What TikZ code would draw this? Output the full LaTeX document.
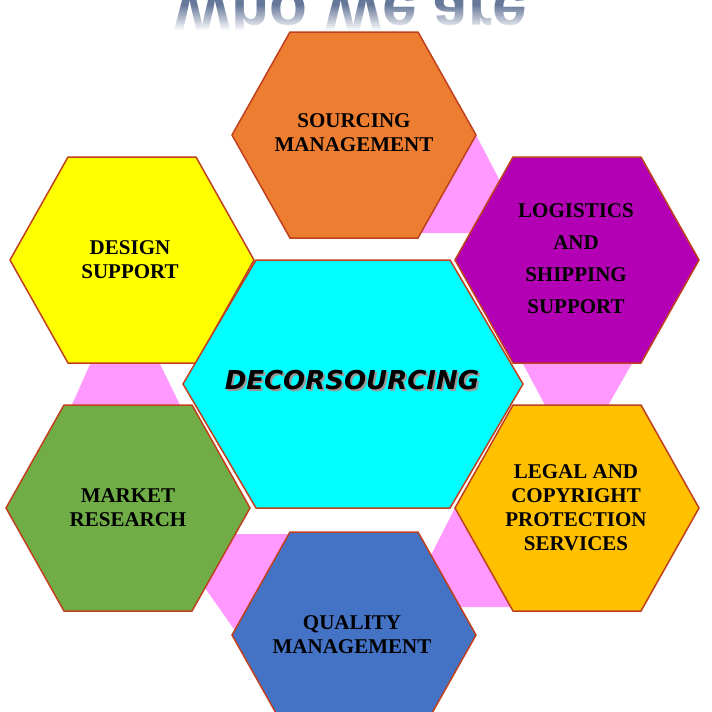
\documentclass[tikz,border=0pt]{standalone}
\usepackage{fontspec}
\setmainfont{Liberation Serif}
\newfontfamily\decofont{DejaVu Sans}
\newfontfamily\reflfont{Liberation Sans}
\definecolor{edgeC}{HTML}{C0401E}
\definecolor{pinkC}{HTML}{FF99FF}
\definecolor{orangeC}{HTML}{ED7D31}
\definecolor{yellowC}{HTML}{FFFF00}
\definecolor{purpleC}{HTML}{B400B4}
\definecolor{cyanC}{HTML}{00FFFF}
\definecolor{greenC}{HTML}{70AD47}
\definecolor{goldC}{HTML}{FFC000}
\definecolor{blueC}{HTML}{4472C4}
\definecolor{slateC}{HTML}{66789A}
\tikzset{
  pics/hexa/.style n args={3}{code={
    \path[pic actions] (-#1,0) -- (-#3,-#2) -- (#3,-#2) -- (#1,0) -- (#3,#2) -- (-#3,#2) -- cycle;}},
  hexedge/.style={draw=edgeC, line width=1.5pt, line join=miter},
  lbl/.style={font=\bfseries\fontsize{21}{24}\selectfont, align=center, text=black},
  pinkpoly/.style={fill=pinkC, draw=none}
}
\begin{document}
\begin{tikzpicture}[x=1pt,y=-1pt]
\useasboundingbox (0,0) rectangle (712,712);
\clip (0,0) rectangle (712,712);
% reflected title
\node[font=\reflfont\bfseries\fontsize{62}{62}\selectfont, text=slateC, anchor=base, inner sep=0pt] (refl) at (350,-8) {\scalebox{1}[-1]{Who We are}};
\foreach \i in {0,...,13}{
  \fill[white, opacity=\i/13] (0,4+2*\i) rectangle (712,6+2*\i);
}
\fill[white] (0,32) rectangle (712,80);
% pink links
\fill[pinkpoly] (476,135) -- (510,200) -- (510,233) -- (410,233) -- cycle;
\fill[pinkpoly] (521,360) -- (634,360) -- (606,409) -- (547,409) -- cycle;
\fill[pinkpoly] (455,508) -- (427,563) -- (450,607) -- (515,607) -- cycle;
\fill[pinkpoly] (225,534) -- (294,534) -- (236,632) -- (205,588) -- cycle;
\fill[pinkpoly] (92,360) -- (158,360) -- (182,409) -- (70,409) -- cycle;
% hexagons
\pic[hexedge, fill=orangeC] at (354,135) {hexa={122}{103}{64}};
\pic[hexedge, fill=yellowC] at (132,260) {hexa={122}{103}{64}};
\pic[hexedge, fill=purpleC] at (577,260) {hexa={122}{103}{64}};
\pic[hexedge, fill=greenC] at (128,508) {hexa={122}{103}{64}};
\pic[hexedge, fill=goldC] at (577,508) {hexa={122}{103}{64}};
\pic[hexedge, fill=blueC] at (354,635) {hexa={122}{103}{64}};
\pic[hexedge, fill=cyanC] at (353,384) {hexa={170}{124}{97}};
% labels
\node[lbl] (src) at (354,133) {SOURCING\\MANAGEMENT};
\node[lbl] (des) at (130,260) {DESIGN\\SUPPORT};
\node[lbl, font=\bfseries\fontsize{21}{32}\selectfont] (log) at (576,259) {LOGISTICS\\AND\\SHIPPING\\SUPPORT};
\node[lbl] (mkt) at (128,508) {MARKET\\RESEARCH};
\node[lbl] (leg) at (576,508) {LEGAL AND\\COPYRIGHT\\PROTECTION\\SERVICES};
\node[lbl] (qua) at (352,635) {QUALITY\\MANAGEMENT};
\node[font=\decofont\bfseries\itshape\fontsize{26}{26}\selectfont, text=black] (deco) at (352,381)
  {\makebox[0pt][l]{\hspace{2pt}\raisebox{-2pt}{\textcolor{black!40}{DECORSOURCING}}}DECORSOURCING};
\end{tikzpicture}
\end{document}
